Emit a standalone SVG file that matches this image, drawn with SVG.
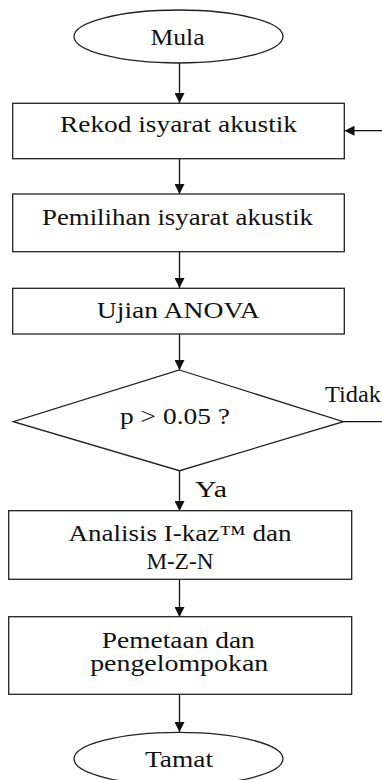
<svg xmlns="http://www.w3.org/2000/svg" width="382" height="780" viewBox="0 0 382 780">
<style>
.n{fill:#fff;stroke:#222;stroke-width:1.3}
.t{font-family:"Liberation Serif","Times New Roman",serif;font-size:23px;fill:#111;text-anchor:middle}
.s{text-anchor:start}
.c{stroke:#111;stroke-width:1.3;fill:none}
</style>
<defs>
<marker id="a" viewBox="0 0 10 10" refX="10" refY="5" markerWidth="10" markerHeight="10" markerUnits="userSpaceOnUse" orient="auto">
<path d="M0,0 L10,5 L0,10 z" fill="#111"/>
</marker>
</defs>
<rect width="382" height="780" fill="#fff"/>
<g id="connectors">
<line class="c" x1="179.5" y1="63" x2="179.5" y2="103" marker-end="url(#a)"/>
<line class="c" x1="179.5" y1="159" x2="179.5" y2="194" marker-end="url(#a)"/>
<line class="c" x1="179.5" y1="252" x2="179.5" y2="288" marker-end="url(#a)"/>
<line class="c" x1="179.5" y1="334" x2="179.5" y2="370" marker-end="url(#a)"/>
<line class="c" x1="179.5" y1="471" x2="179.5" y2="511" marker-end="url(#a)"/>
<line class="c" x1="179.5" y1="579" x2="179.5" y2="617" marker-end="url(#a)"/>
<line class="c" x1="179.5" y1="694" x2="179.5" y2="732" marker-end="url(#a)"/>
<line class="c" x1="343.5" y1="421.7" x2="382" y2="421.7"/>
<line class="c" x1="382" y1="130.7" x2="344.5" y2="130.7" marker-end="url(#a)"/>
<text class="t s" x="325" y="402" textLength="56" lengthAdjust="spacingAndGlyphs">Tidak</text>
<text class="t s" x="195" y="497" textLength="32" lengthAdjust="spacingAndGlyphs">Ya</text>
</g>
<g id="mula">
<ellipse class="n" cx="178.5" cy="36.5" rx="104.5" ry="26.5"/>
<text class="t" x="177.5" y="44.5" textLength="54" lengthAdjust="spacingAndGlyphs">Mula</text>
</g>
<g id="rekod">
<rect class="n" x="12.7" y="103.3" width="331.6" height="55.4"/>
<text class="t" x="178.5" y="132" textLength="237" lengthAdjust="spacingAndGlyphs">Rekod isyarat akustik</text>
</g>
<g id="pemilihan">
<rect class="n" x="12.7" y="194" width="331.6" height="57.7"/>
<text class="t" x="177.5" y="224.5" textLength="271" lengthAdjust="spacingAndGlyphs">Pemilihan isyarat akustik</text>
</g>
<g id="anova">
<rect class="n" x="12.7" y="288.3" width="331.6" height="45.7"/>
<text class="t" x="178.3" y="318" textLength="163" lengthAdjust="spacingAndGlyphs">Ujian ANOVA</text>
</g>
<g id="keputusan">
<polygon class="n" points="179.5,370 343.3,421.7 179.5,470.7 13.3,421.7"/>
<text class="t" x="175" y="423.5" textLength="110" lengthAdjust="spacingAndGlyphs">p &gt; 0.05 ?</text>
</g>
<g id="analisis">
<rect class="n" x="8.7" y="510.7" width="343" height="68.6"/>
<text class="t" x="180" y="541" textLength="223" lengthAdjust="spacingAndGlyphs">Analisis I-kaz™ dan</text>
<text class="t" x="180" y="568.5" textLength="67" lengthAdjust="spacingAndGlyphs">M-Z-N</text>
</g>
<g id="pemetaan">
<rect class="n" x="8.7" y="616.7" width="343" height="77.6"/>
<text class="t" x="178.3" y="647.5" textLength="153" lengthAdjust="spacingAndGlyphs">Pemetaan dan</text>
<text class="t" x="179.2" y="670.5" textLength="178" lengthAdjust="spacingAndGlyphs">pengelompokan</text>
</g>
<g id="tamat">
<ellipse class="n" cx="178.5" cy="758.8" rx="104.5" ry="26.5"/>
<text class="t" x="179" y="767" textLength="68" lengthAdjust="spacingAndGlyphs">Tamat</text>
</g>
</svg>
